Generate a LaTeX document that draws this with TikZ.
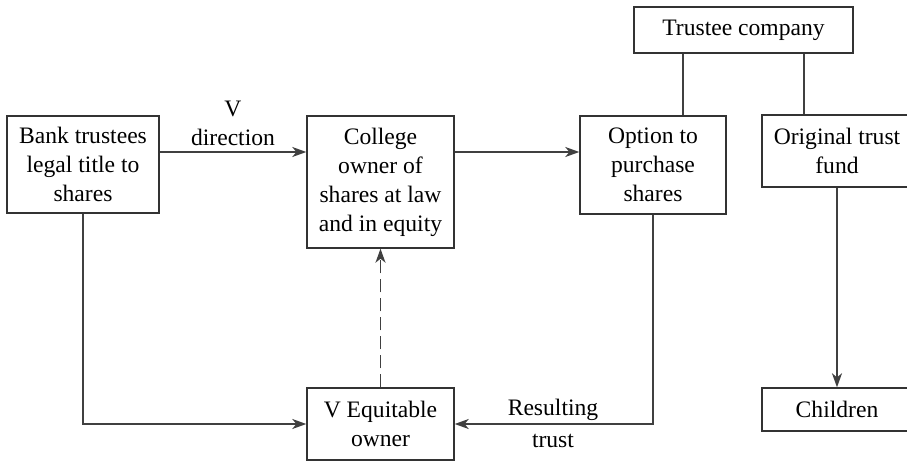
\documentclass[tikz,border=0pt]{standalone}
\usepackage{fontspec}
\setmainfont{Liberation Serif}
\usetikzlibrary{arrows.meta}
\begin{document}
\begin{tikzpicture}[x=0.5pt,y=-0.5pt,
  txt/.style={font=\fontsize{11.8}{14.5}\selectfont},
  box/.style={txt, draw=black!80, line width=0.7pt, inner sep=0pt, align=center},
  conn/.style={draw=black!75, line width=0.75pt},
  arr/.style={conn, -{Stealth[length=7pt,width=5pt,inset=2pt]}},
  lbl/.style={txt, inner sep=0pt, align=center}]
\useasboundingbox (0,0) rectangle (907,461);
\clip (0,0) rectangle (907,461);
\node[box, minimum width=76pt, minimum height=48.5pt] (bank) at (83,164.5) {Bank trustees\\legal title to\\shares};
\node[box, minimum width=73.5pt, minimum height=66pt] (college) at (380.5,182) {College\\owner of\\shares at law\\and in equity};
\node[box, minimum width=73pt, minimum height=49pt] (option) at (653,165) {Option to\\purchase\\shares};
\node[box, minimum width=109.5pt, minimum height=23pt] (trustee) at (743.5,30) {Trustee company};
\node[box, minimum width=75pt, minimum height=36pt] (otf) at (837,151) {Original trust\\fund};
\node[box, minimum width=75pt, minimum height=21.5pt] (children) at (837,409.5) {Children};
\node[box, minimum width=73.5pt, minimum height=36pt] (veq) at (380.5,424) {V Equitable\\owner};
\coordinate (t1) at (683,0);
\coordinate (t2) at (804,0);
\draw[arr] (bank.east |- 0,152) -- (college.west |- 0,152) node[lbl, midway, above=3pt] {V\\direction};
\draw[arr] (college.east |- 0,152) -- (option.west |- 0,152);
\draw[conn] (trustee.south -| t1) -- (option.north -| t1);
\draw[conn] (trustee.south -| t2) -- (otf.north -| t2);
\draw[arr] (otf.south) -- (children.north);
\draw[arr] (bank.south) |- (veq.west);
\draw[arr, dash pattern=on 6.5pt off 3pt] (veq.north) -- (college.south);
\draw[arr] (option.south) |- (veq.east);
\node[lbl, anchor=base] (resA) at (553,415) {Resulting};
\node[lbl, anchor=base] (resB) at (553,447) {trust};
\end{tikzpicture}
\end{document}
